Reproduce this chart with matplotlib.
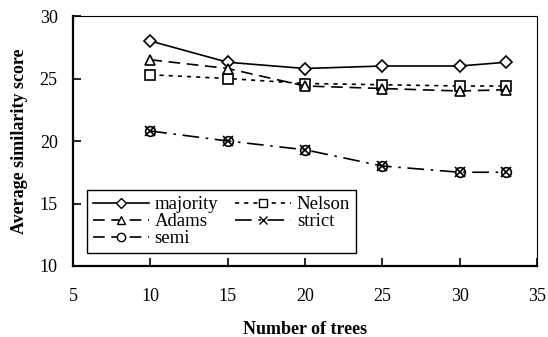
import numpy as np
import matplotlib.pyplot as plt
from matplotlib.lines import Line2D

plt.rcParams['font.family'] = ['Liberation Serif', 'DejaVu Serif']

trees = [10, 15, 20, 25, 30, 33]
majority = [28.0, 26.3, 25.8, 26.0, 26.0, 26.3]
nelson = [25.3, 25.0, 24.6, 24.5, 24.4, 24.4]
adams = [26.5, 25.8, 24.4, 24.2, 24.0, 24.1]
strict = [20.8, 20.0, 19.3, 18.0, 17.5, 17.5]
semi = [20.8, 20.0, 19.3, 18.0, 17.5, 17.5]

fig = plt.figure(figsize=(5.48, 3.37), dpi=100)
ax = fig.add_axes([73/548, 1-266/337, (537-73)/548, (266-16)/337])

mk = dict(color='k', mfc='white', mec='k', lw=1.2, ms=7, mew=1.2)
ax.plot(trees, majority, ls='-', marker='D', ms=6.3, **{k: v for k, v in mk.items() if k != 'ms'})
ax.plot(trees, nelson, ls=(0, (2.5, 3)), marker='s', **mk)
ax.plot(trees, adams, ls=(0, (7, 4)), marker='^', **mk)
ax.plot(trees, strict, ls=(0, (10, 4, 1.5, 4)), marker='o', fillstyle='none', **{k: v for k, v in mk.items() if k != 'mfc'})
ax.plot(trees, semi, ls='none', marker='x', color='k', ms=6.5, mew=1.2)

ax.set_xlim(5, 35)
ax.set_ylim(10, 30)
ax.set_xticks([5, 10, 15, 20, 25, 30, 35])
ax.set_yticks([10, 15, 20, 25, 30])
ax.tick_params(direction='in', length=6, width=1.2, labelsize=13)
ax.tick_params(axis='y', pad=11)
ax.tick_params(axis='x', pad=16)
ax.tick_params(top=False, right=False)
for s in ['left', 'bottom']:
    ax.spines[s].set_linewidth(1.6)
for s in ['top', 'right']:
    ax.spines[s].set_linewidth(0.8)

ax.set_xlabel('Number of trees', fontsize=13, fontweight='bold', labelpad=11)
ax.set_ylabel('Average similarity score', fontsize=13, fontweight='bold', labelpad=8)

h = [
    Line2D([], [], ls='-', marker='D', color='k', mfc='white', ms=5, lw=1.2),
    Line2D([], [], ls=(0, (7, 4)), marker='^', color='k', mfc='white', ms=6, lw=1.2),
    Line2D([], [], ls=(0, (7, 4)), marker='o', color='k', mfc='white', ms=6, lw=1.2),
    Line2D([], [], ls=(0, (2.5, 3)), marker='s', color='k', mfc='white', ms=6, lw=1.2),
    Line2D([], [], ls=(0, (10, 4, 1.5, 4)), marker='x', color='k', ms=6, lw=1.2),
]
leg = ax.legend(h, ['majority', 'Adams', 'semi', 'Nelson', 'strict'], ncol=2,
                loc='lower left', bbox_to_anchor=(14/464, 13/250), fontsize=13.5,
                frameon=True, fancybox=False, edgecolor='k', framealpha=1,
                handlelength=3.0, handletextpad=0.3, columnspacing=0.9,
                labelspacing=0.0, borderpad=0.3, borderaxespad=0)
leg.get_frame().set_linewidth(1.0)

fig.savefig('out.png', dpi=100)
